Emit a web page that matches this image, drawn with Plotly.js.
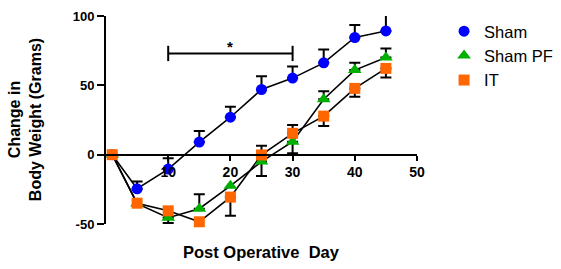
<!DOCTYPE html>
<html>
<head>
<meta charset="utf-8">
<script src="https://cdn.plot.ly/plotly-3.0.1.min.js"></script>
<style>html,body{margin:0;padding:0;background:#fff;}#chart{width:561px;height:269px;}</style>
</head>
<body>
<div id="chart"></div>
<script>
// ---- data ----
const days = [1, 5, 10, 15, 20, 25, 30, 35, 40, 45];

const shamValues   = [0, -24.6, -10.4, 9.1, 27, 47, 55.2, 66.2, 84.5, 89.2];
const shamErrUp    = [null, 5.2, 7.8, 8, 7.5, 9.6, 8.3, 9.6, 9, 12];
const shamErrDown  = [null, 0, 0, 0, 0, 0, 0, 0, 0, 0];

const shamPFValues  = [0, -35.3, -45.5, -39, -22.5, -5, 9.4, 40, 61, 70];
const shamPFErrUp   = [null, null, 0, 10.5, null, 0, 0, 5.8, 5.2, 6.5];
const shamPFErrDown = [null, null, 3.8, 0, null, 10.3, 8.4, 0, 0, 0];

const itValues  = [0, -35, -40.5, -48.4, -30.6, -0.2, 15.4, 27.8, 47.8, 62.2];
const itErrUp   = [null, null, null, null, 0, 6.7, 6, 0, 0, 0];
const itErrDown = [null, null, null, null, 13.4, 0, 0, 7.2, 6.1, 6.5];

const seriesNames = ['Sham', 'Sham PF', 'IT'];
const xTicks = [10, 20, 30, 40, 50];
const yTicks = [-50, 0, 50, 100];
const sigSpan = [10, 30];   // significance bracket (days)
const sigLevel = 73;        // bracket height (grams)
const sigLabel = '*';

// ---- build ----
const toErr = a => a.map(v => v === null ? NaN : v);
const FONT = 'Arial, "Liberation Sans", sans-serif';

const series = [
  {name: seriesNames[0], y: shamValues, up: shamErrUp, down: shamErrDown, color: '#0000ff', symbol: 'circle', size: 11, clip: true},
  {name: seriesNames[1], y: shamPFValues, up: shamPFErrUp, down: shamPFErrDown, color: '#00b000', symbol: 'triangle-up', size: 12, clip: false},
  {name: seriesNames[2], y: itValues, up: itErrUp, down: itErrDown, color: '#ff6600', symbol: 'square', size: 11, clip: false}
];

const traces = [];
series.forEach(s => {
  traces.push({
    type: 'scatter', mode: 'lines', name: s.name, showlegend: false, hoverinfo: 'skip',
    x: days, y: s.y, cliponaxis: s.clip,
    line: {color: '#000', width: 1.6}
  });
});
series.forEach(s => {
  traces.push({
    type: 'scatter', mode: 'markers', name: s.name,
    x: days, y: s.y, cliponaxis: s.clip,
    marker: {color: s.color, symbol: s.symbol, size: s.size, line: {width: 0}},
    error_y: {type: 'data', symmetric: false, array: toErr(s.up), arrayminus: toErr(s.down),
              color: '#000', thickness: 2, width: 5.5}
  });
});

const layout = {
  width: 561, height: 269,
  margin: {l: 106, r: 144, t: 15.5, b: 45, pad: 0, autoexpand: false},
  paper_bgcolor: '#fff', plot_bgcolor: '#fff',
  font: {family: FONT, color: '#000'},
  showlegend: true,
  legend: {x: 1.087, xanchor: 'left', y: 1.01, yanchor: 'top',
           font: {family: FONT, size: 16.5, color: '#000'}, bgcolor: 'rgba(0,0,0,0)'},
  xaxis: {range: [0, 50], anchor: 'free', position: 1/3,
          tickvals: xTicks, ticktext: xTicks.map(String),
          ticks: 'outside', ticklen: 5, tickwidth: 2, tickcolor: '#000',
          showline: true, linewidth: 2, linecolor: '#000',
          showgrid: false, zeroline: false,
          tickfont: {family: FONT, size: 14, weight: 'bold', color: '#000'}},
  yaxis: {range: [-50, 100],
          tickvals: yTicks, ticktext: yTicks.map(String),
          ticks: 'outside', ticklen: 7, tickwidth: 2, tickcolor: '#000',
          showline: true, linewidth: 2, linecolor: '#000',
          showgrid: false, zeroline: false,
          tickfont: {family: FONT, size: 13, weight: 'bold', color: '#000'}},
  shapes: [
    {type: 'line', xref: 'x', yref: 'y', x0: sigSpan[0], x1: sigSpan[1], y0: sigLevel, y1: sigLevel,
     line: {color: '#000', width: 2}},
    {type: 'line', xref: 'x', yref: 'y', x0: sigSpan[0], x1: sigSpan[0], y0: sigLevel - 5.5, y1: sigLevel + 5.5,
     line: {color: '#000', width: 2}},
    {type: 'line', xref: 'x', yref: 'y', x0: sigSpan[1], x1: sigSpan[1], y0: sigLevel - 5.5, y1: sigLevel + 5.5,
     line: {color: '#000', width: 2}}
  ],
  annotations: [
    {text: sigLabel, xref: 'x', yref: 'y', x: (sigSpan[0] + sigSpan[1]) / 2, y: sigLevel,
     yanchor: 'bottom', showarrow: false, yshift: -4,
     font: {family: FONT, size: 15, weight: 'bold', color: '#000'}},
    {text: 'Post Operative&nbsp; Day', xref: 'paper', yref: 'paper', x: 0.5, y: -0.134,
     xanchor: 'center', yanchor: 'middle', showarrow: false,
     font: {family: FONT, size: 16.5, weight: 'bold', color: '#000'}},
    {text: 'Change in<br>Body Weight (Grams)', xref: 'paper', yref: 'paper', x: -0.26, y: 0.5,
     xanchor: 'center', yanchor: 'middle', textangle: -90, showarrow: false,
     font: {family: FONT, size: 16, weight: 'bold', color: '#000'}}
  ]
};

Plotly.newPlot('chart', traces, layout, {staticPlot: true, displayModeBar: false});
</script>
</body>
</html>
